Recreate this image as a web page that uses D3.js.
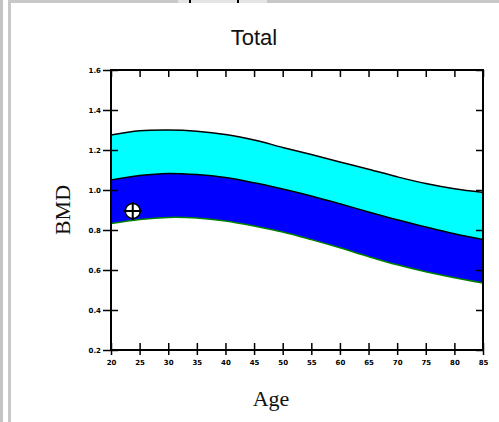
<!DOCTYPE html>
<html>
<head>
<meta charset="utf-8">
<script src="https://cdn.jsdelivr.net/npm/d3@7"></script>
<style>
  html, body { margin: 0; padding: 0; background: #fff; }
  svg { display: block; }
</style>
</head>
<body>
<svg id="chart" width="499" height="422"></svg>
<script>
// ---- data ----
const ages       = [20, 25, 30, 35, 40, 45, 50, 55, 60, 65, 70, 75, 80, 85];
const upperBand  = [1.275, 1.296, 1.300, 1.294, 1.278, 1.250, 1.213, 1.177, 1.140, 1.104, 1.066, 1.032, 1.006, 0.988];
const meanBand   = [1.050, 1.072, 1.083, 1.077, 1.062, 1.036, 1.005, 0.970, 0.931, 0.890, 0.851, 0.815, 0.781, 0.752];
const lowerBand  = [0.832, 0.853, 0.863, 0.860, 0.845, 0.820, 0.790, 0.752, 0.711, 0.667, 0.626, 0.591, 0.561, 0.535];
const patientAge = [23.8];
const patientBMD = [0.895];
const yTicks     = [0.2, 0.4, 0.6, 0.8, 1.0, 1.2, 1.4, 1.6];
const xTicks     = [20, 25, 30, 35, 40, 45, 50, 55, 60, 65, 70, 75, 80, 85];
const titleText  = "Total";
const xLabel     = "Age";
const yLabel     = "BMD";

const svg = d3.select("#chart");

// window chrome
svg.append("rect").attr("x", 0).attr("y", 0).attr("width", 3).attr("height", 422).attr("fill", "#c4c4c4");
svg.append("rect").attr("x", 8).attr("y", 0).attr("width", 3).attr("height", 422).attr("fill", "#c8c8c8");
svg.append("rect").attr("x", 11).attr("y", 0).attr("width", 488).attr("height", 3).attr("fill", "#c8c8c8");
svg.append("rect").attr("x", 178).attr("y", 0).attr("width", 89).attr("height", 3).attr("fill", "#e4e4e4");
svg.append("rect").attr("x", 189).attr("y", 0).attr("width", 2).attr("height", 3).attr("fill", "#000");
svg.append("rect").attr("x", 237).attr("y", 0).attr("width", 2).attr("height", 3).attr("fill", "#000");

const x = d3.scaleLinear().domain([20, 85]).range([111, 483]);
const y = d3.scaleLinear().domain([0.2, 1.6]).range([350, 70]);

const rows = ages.map((a, i) => ({ a, u: upperBand[i], m: meanBand[i], l: lowerBand[i] }));
const curve = d3.curveCatmullRom.alpha(0.5);

svg.append("path").datum(rows)
  .attr("d", d3.area().x(d => x(d.a)).y0(d => y(d.m)).y1(d => y(d.u)).curve(curve))
  .attr("fill", "#00ffff");
svg.append("path").datum(rows)
  .attr("d", d3.area().x(d => x(d.a)).y0(d => y(d.l)).y1(d => y(d.m)).curve(curve))
  .attr("fill", "#0000ff");

svg.append("path").datum(rows)
  .attr("d", d3.line().x(d => x(d.a)).y(d => y(d.u)).curve(curve))
  .attr("fill", "none").attr("stroke", "#000").attr("stroke-width", 1.5);
svg.append("path").datum(rows)
  .attr("d", d3.line().x(d => x(d.a)).y(d => y(d.m)).curve(curve))
  .attr("fill", "none").attr("stroke", "#000").attr("stroke-width", 1.5);
svg.append("path").datum(rows)
  .attr("d", d3.line().x(d => x(d.a)).y(d => y(d.l)).curve(curve))
  .attr("fill", "none").attr("stroke", "#008000").attr("stroke-width", 1.5);

// frame
svg.append("rect").attr("x", x(20)).attr("y", y(1.6))
  .attr("width", x(85) - x(20)).attr("height", y(0.2) - y(1.6))
  .attr("fill", "none").attr("stroke", "#000").attr("stroke-width", 2);

const tickFont = g => g.selectAll("text")
  .attr("font-family", "DejaVu Sans, sans-serif")
  .attr("font-size", 7).attr("font-weight", "bold").attr("fill", "#000");

// left axis
const gl = svg.append("g").attr("transform", `translate(${x(20) + 7},0)`)
  .call(d3.axisLeft(y).tickValues(yTicks).tickFormat(d3.format(".1f")).tickSizeInner(15).tickSizeOuter(0).tickPadding(2));
gl.select(".domain").remove();
gl.selectAll("line").attr("stroke", "#000").attr("stroke-width", 1.5);
gl.call(tickFont);

// bottom axis
const gb = svg.append("g").attr("transform", `translate(0,${y(0.2) - 7})`)
  .call(d3.axisBottom(x).tickValues(xTicks).tickFormat(d3.format("d")).tickSizeInner(12).tickSizeOuter(0).tickPadding(5));
gb.select(".domain").remove();
gb.selectAll("line").attr("stroke", "#000").attr("stroke-width", 1.5);
gb.call(tickFont);

// top axis (ticks only)
const gt = svg.append("g").attr("transform", `translate(0,${y(1.6)})`)
  .call(d3.axisBottom(x).tickValues(xTicks).tickFormat("").tickSizeInner(7).tickSizeOuter(0));
gt.select(".domain").remove();
gt.selectAll("line").attr("stroke", "#000").attr("stroke-width", 1.5);

// right axis (ticks only)
const gr = svg.append("g").attr("transform", `translate(${x(85)},0)`)
  .call(d3.axisLeft(y).tickValues(yTicks).tickFormat("").tickSizeInner(7).tickSizeOuter(0));
gr.select(".domain").remove();
gr.selectAll("line").attr("stroke", "#000").attr("stroke-width", 1.5);

// patient marker
const pts = patientAge.map((a, i) => ({ a, v: patientBMD[i] }));
const mk = svg.selectAll("g.mk").data(pts).join("g").attr("class", "mk")
  .attr("transform", d => `translate(${x(d.a)},${y(d.v)})`);
mk.append("circle").attr("r", 7.5).attr("fill", "#fff").attr("stroke", "#000").attr("stroke-width", 1.5);
mk.append("line").attr("x1", -9).attr("x2", 9).attr("stroke", "#000").attr("stroke-width", 2);
mk.append("line").attr("y1", -9).attr("y2", 9).attr("stroke", "#000").attr("stroke-width", 2);

// titles
svg.append("text").attr("x", 254).attr("y", 45).attr("text-anchor", "middle")
  .attr("font-family", "Liberation Sans, Arial, sans-serif").attr("font-size", 22).attr("fill", "#111")
  .text(titleText);
svg.append("text").attr("x", 271).attr("y", 406).attr("text-anchor", "middle")
  .attr("font-family", "Liberation Serif, Times New Roman, serif").attr("font-size", 22).attr("fill", "#111")
  .text(xLabel);
svg.append("text").attr("transform", "translate(70,210) rotate(-90)").attr("text-anchor", "middle")
  .attr("font-family", "Liberation Serif, Times New Roman, serif").attr("font-size", 22).attr("fill", "#111")
  .text(yLabel);
</script>
</body>
</html>
